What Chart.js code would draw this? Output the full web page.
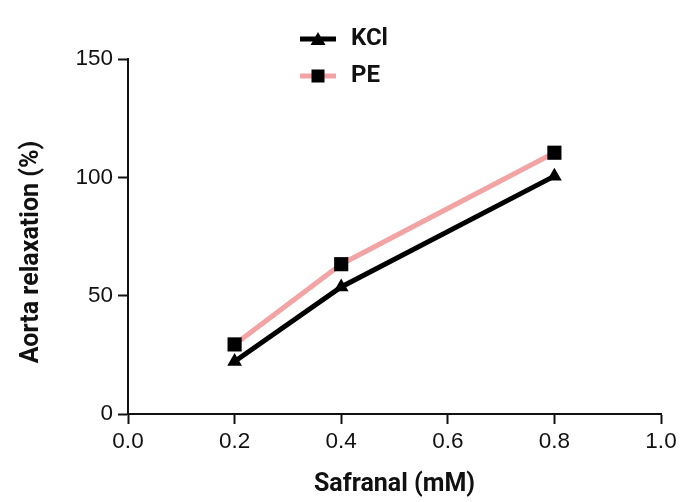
<!DOCTYPE html>
<html>
<head>
<meta charset="utf-8">
<script src="https://cdn.jsdelivr.net/npm/chart.js@4"></script>
<style>
  html, body { margin: 0; padding: 0; background: #ffffff; }
  #wrap { width: 696px; height: 502px; position: relative; }
</style>
</head>
<body>
<div id="wrap"><canvas id="c" width="696" height="502"></canvas></div>
<script>
// ---- data ----
const safranalConc = [0.2, 0.4, 0.8];
const kclRelax = [22.2, 53.7, 100.5];
const peRelax = [29.4, 63.3, 110.4];
const seriesNames = ['KCl', 'PE'];
const xTickValues = [0, 0.2, 0.4, 0.6, 0.8, 1.0];
const yTickValues = [0, 50, 100, 150];

const xTitle = 'Safranal (mM)';
const yTitle = 'Aorta relaxation (%)';

const KCL_COLOR = '#000000';
const PE_COLOR = '#f2a3a3';

function legendSample(color, marker) {
  const c = document.createElement('canvas');
  c.width = 36; c.height = 20;
  const g = c.getContext('2d');
  g.strokeStyle = color; g.lineWidth = 5;
  g.beginPath(); g.moveTo(0, 10); g.lineTo(36, 10); g.stroke();
  g.fillStyle = '#000';
  g.beginPath();
  if (marker === 'triangle') {
    g.moveTo(18, 3); g.lineTo(25.5, 16); g.lineTo(10.5, 16); g.closePath();
  } else {
    g.rect(11.5, 3.5, 13, 13);
  }
  g.fill();
  return c;
}
const samples = [legendSample(KCL_COLOR, 'triangle'), legendSample(PE_COLOR, 'rect')];

const legendPlacer = {
  id: 'legendPlacer',
  afterLayout(chart) {
    const l = chart.legend;
    if (!l) return;
    l.left = 284; l.top = 14;
    l.right = l.left + l.width;
    l.height = 200;
    l.bottom = l.top + 200;
  }
};

const tickFont = { family: "'Liberation Sans', Arial, sans-serif", size: 22.5 };
const titleFont = { family: "Roboto, 'DejaVu Sans', sans-serif", size: 25, weight: 'bold' };
const legendFont = { family: "Roboto, 'DejaVu Sans', sans-serif", size: 24, weight: 'bold' };

new Chart(document.getElementById('c'), {
  type: 'line',
  data: {
    datasets: [
      {
        label: seriesNames[0],
        data: safranalConc.map((x, i) => ({ x, y: kclRelax[i] })),
        borderColor: KCL_COLOR,
        borderWidth: 5,
        pointStyle: 'triangle',
        pointRadius: 8.5,
        pointBackgroundColor: '#000',
        pointBorderColor: '#000',
        pointBorderWidth: 0,
        fill: false,
        tension: 0,
        order: 1
      },
      {
        label: seriesNames[1],
        data: safranalConc.map((x, i) => ({ x, y: peRelax[i] })),
        borderColor: PE_COLOR,
        borderWidth: 5,
        pointStyle: 'rect',
        pointRadius: 10,
        pointBackgroundColor: '#000',
        pointBorderColor: '#000',
        pointBorderWidth: 0,
        fill: false,
        tension: 0,
        order: 2
      }
    ]
  },
  options: {
    responsive: false,
    animation: false,
    layout: { padding: { left: 0, right: 35, top: 59, bottom: 0 } },
    plugins: {
      tooltip: { enabled: false },
      legend: {
        display: true,
        position: 'chartArea',
        align: 'start',
        labels: {
          usePointStyle: true,
          pointStyleWidth: 42,
          padding: 13,
          color: '#111',
          font: legendFont,
          generateLabels(chart) {
            const items = Chart.defaults.plugins.legend.labels.generateLabels(chart);
            items.forEach((it, i) => { it.pointStyle = samples[i]; it.fontColor = '#111'; });
            return items;
          }
        }
      }
    },
    scales: {
      x: {
        type: 'linear',
        min: 0, max: 1,
        afterBuildTicks(scale) { scale.ticks = xTickValues.map(v => ({ value: v })); },
        afterFit(scale) { scale.height = 88; },
        ticks: {
          color: '#111',
          font: tickFont,
          padding: 4,
          maxRotation: 0,
          callback: v => Number(v).toFixed(1)
        },
        grid: { drawOnChartArea: false, drawTicks: true, tickLength: 10, tickColor: '#111', tickWidth: 2 },
        border: { display: true, color: '#111', width: 2 },
        title: { display: true, text: xTitle, color: '#111', font: titleFont, padding: { top: 0, bottom: 2 } }
      },
      y: {
        type: 'linear',
        min: 0, max: 150,
        afterBuildTicks(scale) { scale.ticks = yTickValues.map(v => ({ value: v })); },
        afterFit(scale) { scale.width = 128; },
        ticks: { color: '#111', font: tickFont, padding: 5 },
        grid: { drawOnChartArea: false, drawTicks: true, tickLength: 10, tickColor: '#111', tickWidth: 2 },
        border: { display: true, color: '#111', width: 2 },
        title: { display: true, text: yTitle + '     ', color: '#111', font: titleFont, padding: { top: 17, bottom: 0 } }
      }
    }
  },
  plugins: [legendPlacer]
});
</script>
</body>
</html>
